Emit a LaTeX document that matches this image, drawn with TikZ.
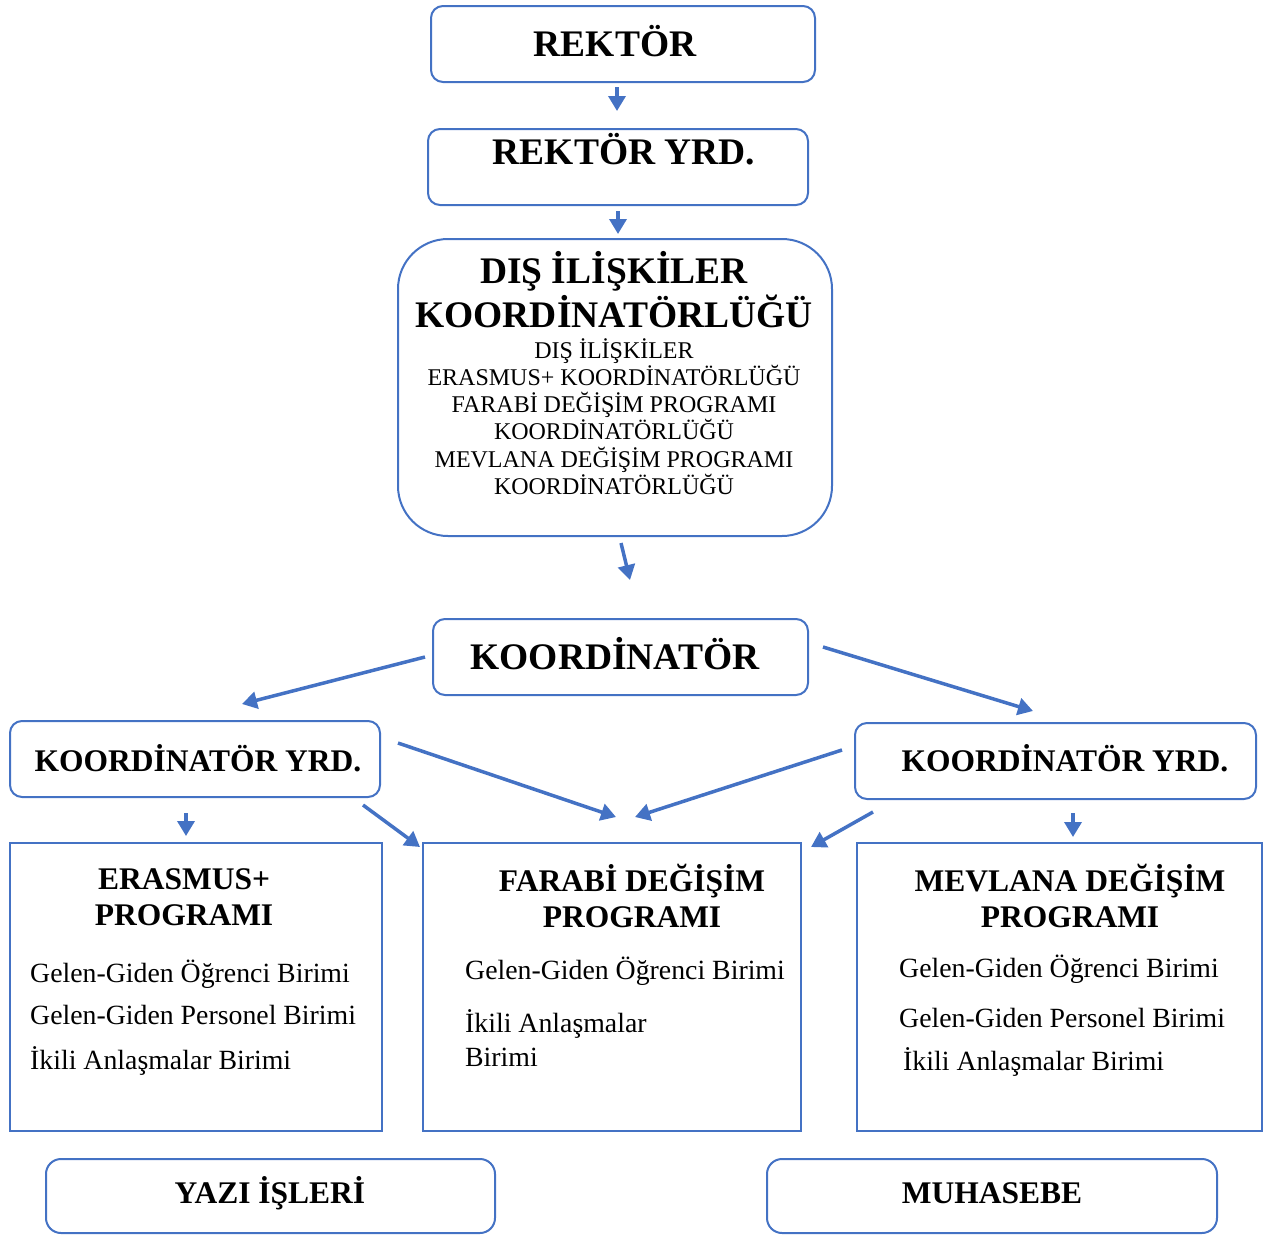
\documentclass[tikz,border=0pt]{standalone}
\usepackage{fontspec}
\setmainfont{Liberation Serif}
\usetikzlibrary{arrows.meta}
\definecolor{bl}{HTML}{4472C4}
\tikzset{
 rbox/.style={draw=bl, line width=2pt, rounded corners=12pt, inner sep=0pt},
 sbox/.style={draw=bl, line width=2pt, inner sep=0pt},
 big/.style={font=\fontsize{37.5}{40}\selectfont\bfseries, anchor=base, inner sep=0pt},
 mid/.style={font=\fontsize{31.5}{36}\selectfont\bfseries, anchor=base, inner sep=0pt},
 small/.style={font=\fontsize{24}{27}\selectfont, anchor=base, inner sep=0pt},
 item/.style={font=\fontsize{27.8}{30}\selectfont, anchor=base west, inner sep=0pt},
 arr/.style={draw=bl, line width=3.5pt, -{Triangle[length=15pt,width=17pt]}},
}
\begin{document}
\begin{tikzpicture}[x=1pt,y=-1pt]
\useasboundingbox (0,0) rectangle (1272,1235);
% boxes
\node[rbox, minimum width=384pt, minimum height=76pt] (rektor) at (623,44) {};
\node[rbox, minimum width=380pt, minimum height=76pt] (rektoryrd) at (618,167) {};
\node[rbox, rounded corners=50pt, minimum width=434pt, minimum height=297pt] (dis) at (615,387.5) {};
\node[rbox, minimum width=375pt, minimum height=76pt] (koord) at (620.5,657) {};
\node[rbox, minimum width=370pt, minimum height=76pt] (lyrd) at (195,759) {};
\node[rbox, minimum width=401pt, minimum height=76pt] (ryrd) at (1055.5,761) {};
\node[sbox, minimum width=372pt, minimum height=288pt] (erasmus) at (196,987) {};
\node[sbox, minimum width=378pt, minimum height=288pt] (farabi) at (612,987) {};
\node[sbox, minimum width=405pt, minimum height=288pt] (mevlana) at (1059.5,987) {};
\node[rbox, rounded corners=15pt, minimum width=449pt, minimum height=74pt] (yazi) at (270.5,1196) {};
\node[rbox, rounded corners=15pt, minimum width=450pt, minimum height=74pt] (muhasebe) at (992,1196) {};
% texts
\node[big] (trektor) at (615,56) {REKTÖR};
\node[big] (trektoryrd) at (624,164) {REKTÖR YRD.};
\node[big] (tdis1) at (614,283) {DIŞ İLİŞKİLER};
\node[big] (tdis2) at (614,327) {KOORDİNATÖRLÜĞÜ};
\node[small] (s1) at (614,358) {DIŞ İLİŞKİLER};
\node[small] (s2) at (614,385.3) {ERASMUS+ KOORDİNATÖRLÜĞÜ};
\node[small] (s3) at (614,412.6) {FARABİ DEĞİŞİM PROGRAMI};
\node[small] (s4) at (614,439.9) {KOORDİNATÖRLÜĞÜ};
\node[small] (s5) at (614,467.2) {MEVLANA DEĞİŞİM PROGRAMI};
\node[small] (s6) at (614,494.5) {KOORDİNATÖRLÜĞÜ};
\node[big] (tkoord) at (615,669) {KOORDİNATÖR};
\node[mid] (tlyrd) at (198,771) {KOORDİNATÖR YRD.};
\node[mid] (tryrd) at (1065,771) {KOORDİNATÖR YRD.};
\node[mid] (te1) at (184,889) {ERASMUS+};
\node[mid] (te2) at (184,925) {PROGRAMI};
\node[item] (ie1) at (30,982) {Gelen-Giden Öğrenci Birimi};
\node[item] (ie2) at (30,1024) {Gelen-Giden Personel Birimi};
\node[item] (ie3) at (30,1069) {İkili Anlaşmalar Birimi};
\node[mid] (tf1) at (632,891) {FARABİ DEĞİŞİM};
\node[mid] (tf2) at (632,927) {PROGRAMI};
\node[item] (if1) at (465,979) {Gelen-Giden Öğrenci Birimi};
\node[item] (if2) at (465,1032) {İkili Anlaşmalar};
\node[item] (if3) at (465,1066) {Birimi};
\node[mid] (tm1) at (1070,891) {MEVLANA DEĞİŞİM};
\node[mid] (tm2) at (1070,927) {PROGRAMI};
\node[item] (im1) at (899,977) {Gelen-Giden Öğrenci Birimi};
\node[item] (im2) at (899,1027) {Gelen-Giden Personel Birimi};
\node[item] (im3) at (903,1070) {İkili Anlaşmalar Birimi};
\node[mid] (tyazi) at (270,1203) {YAZI İŞLERİ};
\node[mid] (tmuh) at (992,1203) {MUHASEBE};
% arrow end points
\coordinate (a1s) at (617,87);   \coordinate (a1e) at (617,111);
\coordinate (a2s) at (618,211);  \coordinate (a2e) at (618,234);
\coordinate (a3s) at (621,543);  \coordinate (a3e) at (630,580);
\coordinate (a4s) at (425,657);  \coordinate (a4e) at (242,704);
\coordinate (a5s) at (823,647);  \coordinate (a5e) at (1033,711);
\coordinate (a6s) at (398,743);  \coordinate (a6e) at (616,817);
\coordinate (a7s) at (842,750);  \coordinate (a7e) at (635,817);
\coordinate (a8s) at (186,813);  \coordinate (a8e) at (186,836);
\coordinate (a9s) at (363,805);  \coordinate (a9e) at (420,847);
\coordinate (a10s) at (873,812); \coordinate (a10e) at (811,847);
\coordinate (a11s) at (1073,813);\coordinate (a11e) at (1073,837);
\foreach \i in {1,...,11} { \draw[arr] (a\i s) -- (a\i e); }
\end{tikzpicture}
\end{document}
